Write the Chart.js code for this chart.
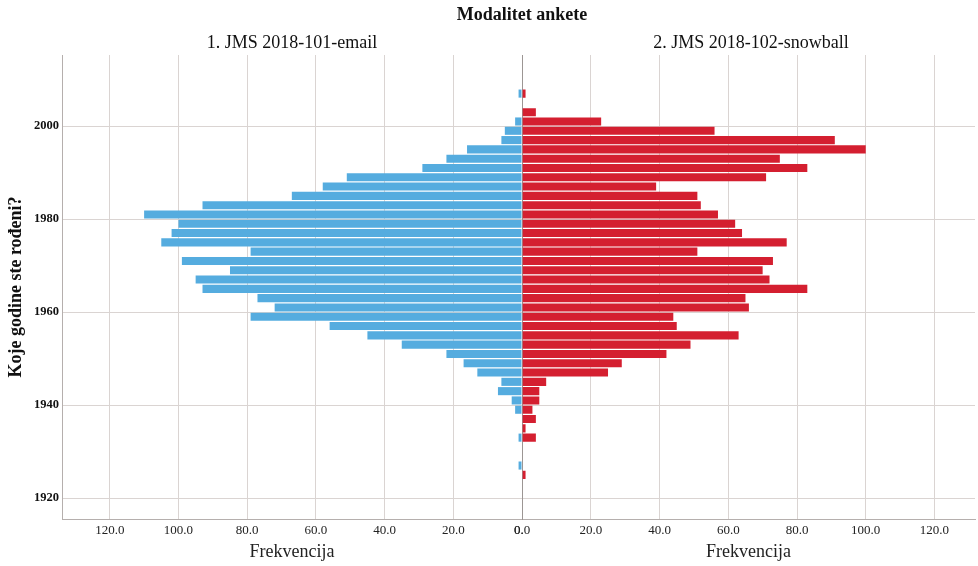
<!DOCTYPE html>
<html lang="hr">
<head>
  <meta charset="UTF-8" />
  <title>Modalitet ankete</title>
  <script src="https://cdn.jsdelivr.net/npm/chart.js"></script>
  <style>
    body { margin: 0; background: #fff; font-family: "Liberation Serif", serif; }
    #wrap { position: relative; width: 978px; height: 566px; overflow: hidden; }
    .lbl { position: absolute; transform: translate(-50%, -50%); white-space: nowrap; color: #111; }
    #main { left: 522px; top: 14px; font-size: 18px; font-weight: bold; }
    #h1 { left: 292px; top: 42px; font-size: 18px; }
    #h2 { left: 751px; top: 42px; font-size: 18px; }
    #leftBox { position: absolute; left: 0; top: 0; width: 524px; height: 566px; }
    #rightBox { position: absolute; left: 510px; top: 0; width: 468px; height: 566px; }
  </style>
</head>
<body>
  <div id="wrap">
    <div id="leftBox"><canvas id="leftChart"></canvas></div>
    <div id="rightBox"><canvas id="rightChart"></canvas></div>
    <div class="lbl" id="main">Modalitet ankete</div>
    <div class="lbl" id="h1">1. JMS 2018-101-email</div>
    <div class="lbl" id="h2">2. JMS 2018-102-snowball</div>
  </div>

  <script>
    // birth year bins (2 years wide, centre year)
    const years = [1925, 1927, 1929, 1931, 1933, 1935, 1937, 1939, 1941, 1943,
                   1945, 1947, 1949, 1951, 1953, 1955, 1957, 1959, 1961, 1963,
                   1965, 1967, 1969, 1971, 1973, 1975, 1977, 1979, 1981, 1983,
                   1985, 1987, 1989, 1991, 1993, 1995, 1997, 1999, 2001, 2003,
                   2005, 2007];
    const emailCounts = [0, 1, 0, 0, 1, 0, 0, 2, 3, 7,
                         6, 13, 17, 22, 35, 45, 56, 79, 72, 77,
                         93, 95, 85, 99, 79, 105, 102, 100, 110, 93,
                         67, 58, 51, 29, 22, 16, 6, 5, 2, 0,
                         0, 1];
    const snowballCounts = [1, 0, 0, 0, 4, 1, 4, 3, 5, 5,
                            7, 25, 29, 42, 49, 63, 45, 44, 66, 65,
                            83, 72, 70, 73, 51, 77, 64, 62, 57, 52,
                            51, 39, 71, 83, 75, 100, 91, 56, 23, 4,
                            0, 1];
    const yearTicks = [1920, 1940, 1960, 1980, 2000];
    const freqTicks = [0, 20, 40, 60, 80, 100, 120];

    const gridColor = '#dad4d2';
    const axisColor = '#b5afad';
    const zeroColor = '#9c9694';
    const font = 'Liberation Serif';

    function points(values) {
      return years.map((y, i) => ({ x: values[i], y: y }));
    }

    function xScale(max, reverse) {
      return {
        type: 'linear',
        min: 0,
        max: max,
        reverse: reverse,
        afterBuildTicks: s => { s.ticks = freqTicks.map(v => ({ value: v })); },
        afterFit: s => { s.height = 47; },
        grid: {
          drawTicks: false,
          color: c => (c.tick && c.tick.value === 0) ? zeroColor : gridColor
        },
        border: { color: axisColor },
        ticks: {
          padding: 4,
          color: '#222',
          font: { family: font, size: 13 },
          callback: v => v.toFixed(1)
        },
        title: {
          display: true,
          text: 'Frekvencija',
          color: '#222',
          font: { family: font, size: 18 },
          padding: { top: 0, bottom: 3 }
        }
      };
    }

    function yScale(width, showLabels) {
      return {
        type: 'linear',
        min: 1915.5,
        max: 2015.3,
        offset: false,
        afterBuildTicks: s => { s.ticks = yearTicks.map(v => ({ value: v })); },
        afterFit: s => { s.width = width; },
        grid: { offset: false, drawTicks: false, color: gridColor },
        border: { color: showLabels ? axisColor : zeroColor },
        ticks: {
          display: showLabels,
          padding: 3,
          color: '#111',
          font: { family: font, size: 12.5, weight: 'bold' },
          callback: v => String(v)
        },
        title: {
          display: showLabels,
          text: 'Koje godine ste rođeni?',
          color: '#111',
          font: { family: font, size: 18, weight: 'bold' },
          padding: { top: 6, bottom: 0 }
        }
      };
    }

    function makeChart(id, values, color, xOpts, yOpts, padding) {
      return new Chart(document.getElementById(id), {
        type: 'bar',
        data: {
          datasets: [{
            data: points(values),
            backgroundColor: color,
            borderWidth: 0,
            barPercentage: 0.87,
            categoryPercentage: 1.0
          }]
        },
        options: {
          indexAxis: 'y',
          responsive: true,
          maintainAspectRatio: false,
          animation: false,
          layout: { autoPadding: false, padding: padding },
          plugins: { legend: { display: false }, tooltip: { enabled: false } },
          scales: { x: xOpts, y: yOpts }
        }
      });
    }

    makeChart('leftChart', emailCounts, '#55acdf',
      xScale(133.9, true), yScale(62, true),
      { top: 55, right: 2, left: 0, bottom: 0 });

    makeChart('rightChart', snowballCounts, '#d41f30',
      xScale(131.8, false), yScale(12, false),
      { top: 55, right: 3, left: 0, bottom: 0 });
  </script>
</body>
</html>
